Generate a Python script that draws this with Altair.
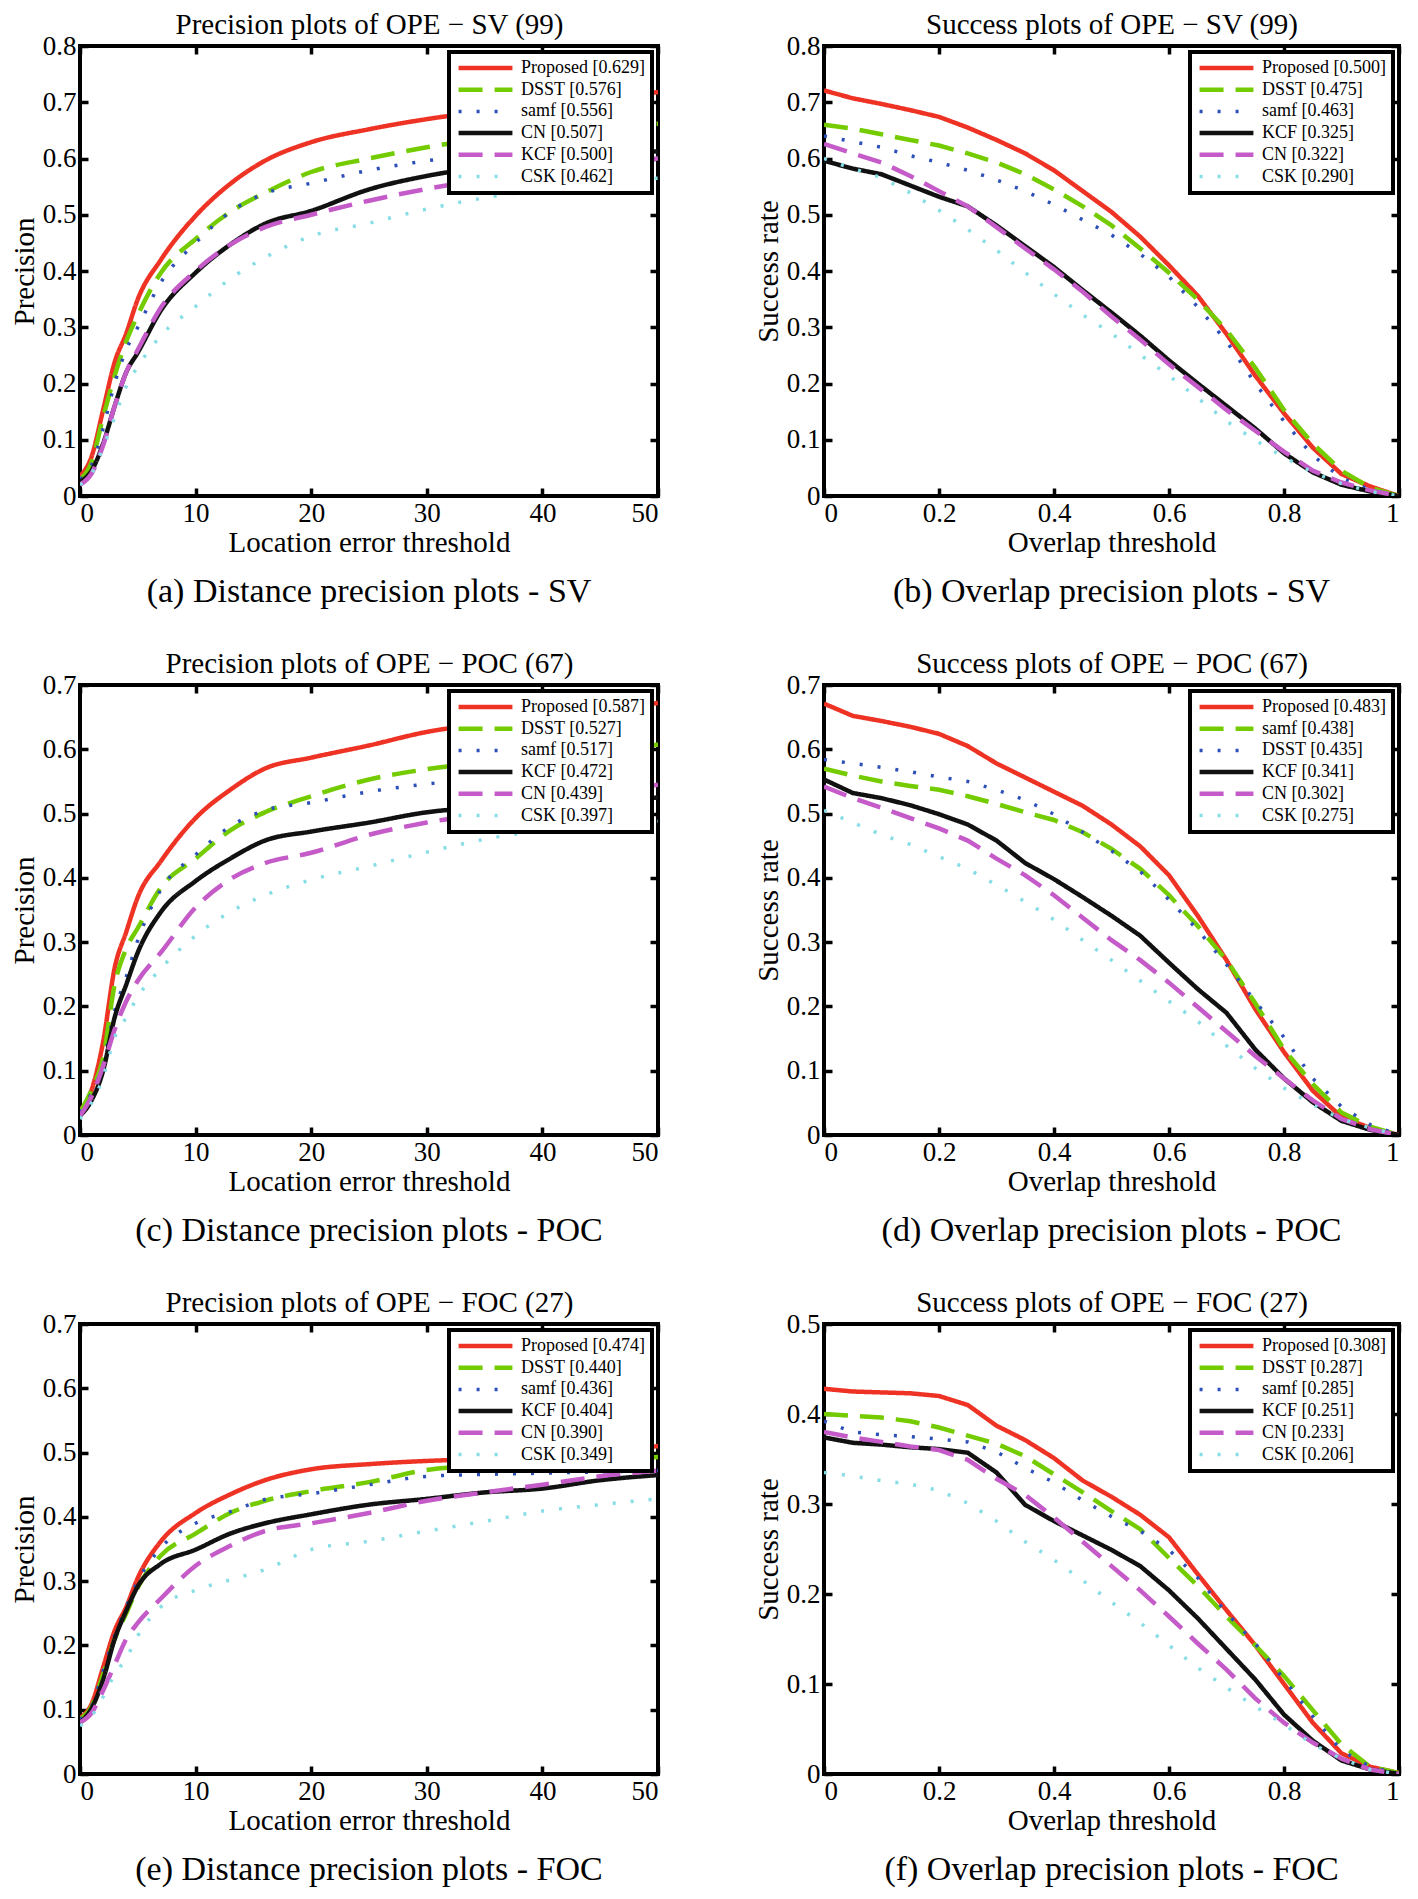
import altair as alt
import pandas as pd

FONT = "Liberation Serif"

# ---------------- data ----------------
PREC_X = [0, 1, 2, 3, 4, 5, 7, 10, 13, 16, 20, 25, 30, 35, 40, 45, 50]
SUCC_X = [0.0, 0.05, 0.1, 0.15, 0.2, 0.25, 0.3, 0.35, 0.4, 0.45, 0.5,
          0.55, 0.6, 0.65, 0.7, 0.75, 0.8, 0.85, 0.9, 0.95, 1.0]

# (a) Precision SV
sv_prec_names = ["Proposed", "DSST", "samf", "CN", "KCF", "CSK"]
sv_prec_scores = ["0.629", "0.576", "0.556", "0.507", "0.500", "0.462"]
sv_prec_proposed = [0.035, 0.07, 0.153, 0.238, 0.289, 0.35, 0.42, 0.498, 0.555, 0.596, 0.629, 0.652, 0.670, 0.684, 0.697, 0.708, 0.718]
sv_prec_dsst = [0.03, 0.06, 0.14, 0.214, 0.275, 0.322, 0.397, 0.457, 0.505, 0.539, 0.576, 0.60, 0.62, 0.636, 0.648, 0.656, 0.662]
sv_prec_samf = [0.03, 0.055, 0.12, 0.2, 0.26, 0.30, 0.38, 0.45, 0.505, 0.538, 0.556, 0.579, 0.596, 0.608, 0.618, 0.626, 0.633]
sv_prec_cn = [0.025, 0.045, 0.093, 0.16, 0.22, 0.255, 0.33, 0.397, 0.447, 0.484, 0.507, 0.545, 0.569, 0.585, 0.597, 0.606, 0.613]
sv_prec_kcf = [0.02, 0.04, 0.09, 0.16, 0.22, 0.26, 0.335, 0.40, 0.447, 0.478, 0.500, 0.525, 0.546, 0.563, 0.577, 0.589, 0.60]
sv_prec_csk = [0.02, 0.04, 0.086, 0.14, 0.195, 0.23, 0.285, 0.337, 0.386, 0.424, 0.462, 0.485, 0.51, 0.53, 0.545, 0.556, 0.565]

# (b) Success SV
sv_succ_names = ["Proposed", "DSST", "samf", "KCF", "CN", "CSK"]
sv_succ_scores = ["0.500", "0.475", "0.463", "0.325", "0.322", "0.290"]
sv_succ_proposed = [0.721, 0.707, 0.697, 0.686, 0.674, 0.655, 0.633, 0.609, 0.579, 0.542, 0.505, 0.461, 0.41, 0.356, 0.288, 0.214, 0.147, 0.086, 0.039, 0.017, 0.0]
sv_succ_dsst = [0.66, 0.653, 0.643, 0.633, 0.623, 0.609, 0.593, 0.572, 0.545, 0.515, 0.481, 0.44, 0.397, 0.349, 0.295, 0.228, 0.153, 0.093, 0.045, 0.015, 0.0]
sv_succ_samf = [0.64, 0.63, 0.62, 0.605, 0.593, 0.579, 0.562, 0.542, 0.518, 0.491, 0.464, 0.43, 0.39, 0.336, 0.275, 0.2, 0.133, 0.072, 0.032, 0.011, 0.0]
sv_succ_kcf = [0.596, 0.582, 0.572, 0.552, 0.532, 0.515, 0.481, 0.444, 0.407, 0.366, 0.326, 0.285, 0.241, 0.2, 0.16, 0.12, 0.076, 0.042, 0.02, 0.008, 0.0]
sv_succ_cn = [0.626, 0.609, 0.593, 0.569, 0.542, 0.515, 0.478, 0.44, 0.403, 0.363, 0.319, 0.278, 0.234, 0.194, 0.153, 0.116, 0.079, 0.045, 0.024, 0.01, 0.0]
sv_succ_csk = [0.6, 0.582, 0.566, 0.539, 0.508, 0.474, 0.437, 0.397, 0.359, 0.322, 0.289, 0.251, 0.214, 0.174, 0.133, 0.099, 0.069, 0.042, 0.022, 0.008, 0.0]

# (c) Precision POC
poc_prec_names = ["Proposed", "DSST", "samf", "KCF", "CN", "CSK"]
poc_prec_scores = ["0.587", "0.527", "0.517", "0.472", "0.439", "0.397"]
poc_prec_proposed = [0.038, 0.07, 0.145, 0.26, 0.316, 0.37, 0.426, 0.493, 0.537, 0.57, 0.587, 0.606, 0.627, 0.64, 0.652, 0.662, 0.672]
poc_prec_dsst = [0.035, 0.07, 0.12, 0.234, 0.29, 0.322, 0.385, 0.43, 0.474, 0.502, 0.527, 0.553, 0.569, 0.58, 0.59, 0.60, 0.607]
poc_prec_samf = [0.035, 0.065, 0.11, 0.193, 0.246, 0.303, 0.382, 0.436, 0.48, 0.505, 0.517, 0.534, 0.546, 0.555, 0.562, 0.568, 0.575]
poc_prec_kcf = [0.03, 0.054, 0.10, 0.183, 0.234, 0.284, 0.347, 0.395, 0.43, 0.458, 0.472, 0.486, 0.502, 0.51, 0.515, 0.52, 0.525]
poc_prec_cn = [0.03, 0.06, 0.107, 0.164, 0.208, 0.24, 0.284, 0.354, 0.398, 0.423, 0.439, 0.467, 0.486, 0.50, 0.515, 0.53, 0.545]
poc_prec_csk = [0.025, 0.05, 0.09, 0.152, 0.183, 0.215, 0.259, 0.31, 0.347, 0.373, 0.397, 0.418, 0.44, 0.46, 0.474, 0.482, 0.488]

# (d) Success POC
poc_succ_names = ["Proposed", "samf", "DSST", "KCF", "CN", "CSK"]
poc_succ_scores = ["0.483", "0.438", "0.435", "0.341", "0.302", "0.275"]
poc_succ_proposed = [0.671, 0.652, 0.644, 0.635, 0.624, 0.605, 0.578, 0.556, 0.534, 0.512, 0.483, 0.449, 0.404, 0.341, 0.272, 0.196, 0.129, 0.069, 0.028, 0.011, 0.0]
poc_succ_samf = [0.57, 0.559, 0.55, 0.543, 0.537, 0.527, 0.515, 0.502, 0.49, 0.471, 0.445, 0.414, 0.373, 0.325, 0.272, 0.205, 0.133, 0.079, 0.035, 0.013, 0.0]
poc_succ_dsst = [0.584, 0.578, 0.572, 0.565, 0.557, 0.55, 0.537, 0.521, 0.499, 0.471, 0.442, 0.41, 0.366, 0.319, 0.265, 0.208, 0.152, 0.088, 0.044, 0.016, 0.0]
poc_succ_kcf = [0.553, 0.532, 0.524, 0.513, 0.499, 0.483, 0.458, 0.423, 0.398, 0.37, 0.341, 0.31, 0.268, 0.227, 0.19, 0.133, 0.088, 0.051, 0.022, 0.008, 0.0]
poc_succ_cn = [0.542, 0.524, 0.509, 0.493, 0.477, 0.458, 0.43, 0.404, 0.373, 0.338, 0.303, 0.272, 0.237, 0.199, 0.161, 0.123, 0.088, 0.054, 0.025, 0.009, 0.0]
poc_succ_csk = [0.505, 0.486, 0.467, 0.452, 0.433, 0.414, 0.389, 0.363, 0.335, 0.303, 0.272, 0.24, 0.208, 0.177, 0.139, 0.104, 0.073, 0.047, 0.025, 0.011, 0.0]

# (e) Precision FOC
foc_prec_names = ["Proposed", "DSST", "samf", "KCF", "CN", "CSK"]
foc_prec_scores = ["0.474", "0.440", "0.436", "0.404", "0.390", "0.349"]
foc_prec_proposed = [0.087, 0.109, 0.166, 0.223, 0.26, 0.305, 0.362, 0.406, 0.435, 0.457, 0.474, 0.482, 0.487, 0.49, 0.495, 0.502, 0.51]
foc_prec_dsst = [0.085, 0.105, 0.155, 0.21, 0.25, 0.29, 0.34, 0.374, 0.406, 0.425, 0.44, 0.454, 0.473, 0.48, 0.485, 0.49, 0.493]
foc_prec_samf = [0.085, 0.105, 0.16, 0.215, 0.26, 0.30, 0.352, 0.39, 0.408, 0.427, 0.436, 0.45, 0.463, 0.466, 0.468, 0.47, 0.472]
foc_prec_kcf = [0.08, 0.102, 0.147, 0.21, 0.254, 0.292, 0.327, 0.349, 0.374, 0.39, 0.404, 0.419, 0.428, 0.438, 0.444, 0.457, 0.465]
foc_prec_cn = [0.08, 0.095, 0.13, 0.17, 0.21, 0.235, 0.273, 0.324, 0.355, 0.378, 0.39, 0.406, 0.425, 0.438, 0.45, 0.463, 0.472]
foc_prec_csk = [0.075, 0.09, 0.12, 0.155, 0.18, 0.215, 0.26, 0.286, 0.302, 0.318, 0.349, 0.362, 0.378, 0.393, 0.409, 0.419, 0.428]

# (f) Success FOC
foc_succ_names = ["Proposed", "DSST", "samf", "KCF", "CN", "CSK"]
foc_succ_scores = ["0.308", "0.287", "0.285", "0.251", "0.233", "0.206"]
foc_succ_proposed = [0.428, 0.425, 0.424, 0.423, 0.42, 0.41, 0.387, 0.371, 0.351, 0.326, 0.308, 0.288, 0.263, 0.222, 0.182, 0.143, 0.1, 0.057, 0.023, 0.008, 0.001]
foc_succ_dsst = [0.4, 0.398, 0.396, 0.392, 0.385, 0.376, 0.367, 0.353, 0.333, 0.313, 0.292, 0.272, 0.24, 0.209, 0.175, 0.143, 0.109, 0.071, 0.033, 0.008, 0.001]
foc_succ_samf = [0.392, 0.38, 0.377, 0.375, 0.372, 0.369, 0.358, 0.34, 0.324, 0.304, 0.286, 0.27, 0.249, 0.218, 0.179, 0.145, 0.105, 0.064, 0.026, 0.008, 0.0]
foc_succ_kcf = [0.374, 0.368, 0.366, 0.363, 0.361, 0.357, 0.335, 0.299, 0.281, 0.265, 0.249, 0.231, 0.204, 0.173, 0.139, 0.105, 0.066, 0.037, 0.015, 0.005, 0.0]
foc_succ_cn = [0.38, 0.374, 0.369, 0.364, 0.36, 0.349, 0.328, 0.31, 0.285, 0.258, 0.231, 0.204, 0.175, 0.145, 0.116, 0.084, 0.057, 0.035, 0.017, 0.005, 0.0]
foc_succ_csk = [0.335, 0.331, 0.326, 0.322, 0.315, 0.301, 0.281, 0.258, 0.238, 0.215, 0.191, 0.168, 0.143, 0.118, 0.096, 0.075, 0.055, 0.033, 0.017, 0.005, 0.0]

# ---------------- styles by legend rank ----------------
COLORS = ["#ee3224", "#74cc00", "#2d50b8", "#111111", "#c45bc8", "#86dde6"]
DASHES = [[1, 0], [24, 12], [3, 15], [1, 0], [24, 12], [3, 15]]
WIDTHS = [4.5, 4.5, 3.5, 4.5, 4.5, 3.5]

W_LEFT, W_RIGHT, H = 578, 575, 450
TICK = 8


def panel(xs, names, scores, series, ymax, yticks, xticks, xdomain, xfmt,
          top_title, xtitle, ytitle, caption, interp, width):
    labels = [f"{n} [{s}]" for n, s in zip(names, scores)]
    rows = []
    for rank, (lab, ys) in enumerate(zip(labels, series)):
        for x, y in zip(xs, ys):
            rows.append({"x": x, "y": y, "series": lab, "rank": rank})
    df = pd.DataFrame(rows)
    xsc = alt.Scale(domain=xdomain, nice=False, zero=False)
    ysc = alt.Scale(domain=[0, ymax], nice=False)
    base = alt.Chart(df)
    lines = base.mark_line(interpolate=interp, clip=True).encode(
        x=alt.X("x:Q", scale=xsc,
                axis=alt.Axis(orient="bottom", values=xticks, format=xfmt, title=xtitle,
                              offset=-TICK, tickSize=TICK, labelPadding=4, titlePadding=2)),
        y=alt.Y("y:Q", scale=ysc,
                axis=alt.Axis(orient="left", values=yticks, format="~g", title=ytitle,
                              offset=-TICK, tickSize=TICK, labelPadding=4, titlePadding=3)),
        color=alt.Color("series:N", scale=alt.Scale(domain=labels, range=COLORS),
                        legend=alt.Legend(title=None)),
        strokeDash=alt.StrokeDash("series:N", scale=alt.Scale(domain=labels, range=DASHES),
                                  legend=alt.Legend(title=None)),
        strokeWidth=alt.StrokeWidth("series:N", scale=alt.Scale(type="ordinal", domain=labels, range=WIDTHS),
                                    legend=None),
    )
    ghost = base.mark_line(opacity=0).encode(
        x=alt.X("x:Q", scale=xsc,
                axis=alt.Axis(orient="top", values=xticks, labels=False, title=top_title,
                              offset=-TICK, tickSize=TICK, titlePadding=5,
                              titleFontSize=29)),
        y=alt.Y("y:Q", scale=ysc,
                axis=alt.Axis(orient="right", values=yticks, labels=False, title=None,
                              offset=-TICK, tickSize=TICK)),
        detail="series:N",
    )
    return alt.layer(lines, ghost).resolve_axis(x="independent", y="independent").properties(
        width=width, height=H,
        title=alt.TitleParams(caption, orient="bottom", fontSize=34, offset=18,
                              font=FONT, fontWeight="normal", color="black"),
    )


prec_ticks = [0, 10, 20, 30, 40, 50]
succ_ticks = [0, 0.2, 0.4, 0.6, 0.8, 1]
y8 = [0, 0.1, 0.2, 0.3, 0.4, 0.5, 0.6, 0.7, 0.8]
y7 = [0, 0.1, 0.2, 0.3, 0.4, 0.5, 0.6, 0.7]
y5 = [0, 0.1, 0.2, 0.3, 0.4, 0.5]
MINUS = "\u2212"

pa = panel(PREC_X, sv_prec_names, sv_prec_scores,
           [sv_prec_proposed, sv_prec_dsst, sv_prec_samf, sv_prec_cn, sv_prec_kcf, sv_prec_csk],
           0.8, y8, prec_ticks, [0, 50], "d", f"Precision plots of OPE {MINUS} SV (99)",
           "Location error threshold", "Precision", "(a) Distance precision plots - SV", "monotone", W_LEFT)
pb = panel(SUCC_X, sv_succ_names, sv_succ_scores,
           [sv_succ_proposed, sv_succ_dsst, sv_succ_samf, sv_succ_kcf, sv_succ_cn, sv_succ_csk],
           0.8, y8, succ_ticks, [0, 1], "~g", f"Success plots of OPE {MINUS} SV (99)",
           "Overlap threshold", "Success rate", "(b) Overlap precision plots - SV", "linear", W_RIGHT)
pc = panel(PREC_X, poc_prec_names, poc_prec_scores,
           [poc_prec_proposed, poc_prec_dsst, poc_prec_samf, poc_prec_kcf, poc_prec_cn, poc_prec_csk],
           0.7, y7, prec_ticks, [0, 50], "d", f"Precision plots of OPE {MINUS} POC (67)",
           "Location error threshold", "Precision", "(c) Distance precision plots - POC", "monotone", W_LEFT)
pd_ = panel(SUCC_X, poc_succ_names, poc_succ_scores,
            [poc_succ_proposed, poc_succ_samf, poc_succ_dsst, poc_succ_kcf, poc_succ_cn, poc_succ_csk],
            0.7, y7, succ_ticks, [0, 1], "~g", f"Success plots of OPE {MINUS} POC (67)",
            "Overlap threshold", "Success rate", "(d) Overlap precision plots - POC", "linear", W_RIGHT)
pe = panel(PREC_X, foc_prec_names, foc_prec_scores,
           [foc_prec_proposed, foc_prec_dsst, foc_prec_samf, foc_prec_kcf, foc_prec_cn, foc_prec_csk],
           0.7, y7, prec_ticks, [0, 50], "d", f"Precision plots of OPE {MINUS} FOC (27)",
           "Location error threshold", "Precision", "(e) Distance precision plots - FOC", "monotone", W_LEFT)
pf = panel(SUCC_X, foc_succ_names, foc_succ_scores,
           [foc_succ_proposed, foc_succ_dsst, foc_succ_samf, foc_succ_kcf, foc_succ_cn, foc_succ_csk],
           0.5, y5, succ_ticks, [0, 1], "~g", f"Success plots of OPE {MINUS} FOC (27)",
           "Overlap threshold", "Success rate", "(f) Overlap precision plots - FOC", "linear", W_RIGHT)

chart = alt.concat(pa, pb, pc, pd_, pe, pf, columns=2, spacing={"row": 36, "column": 90}).resolve_scale(
    color="independent", strokeDash="independent", strokeWidth="independent"
).properties(
    padding={"left": 0, "top": 0, "right": 0, "bottom": 0}
).configure(
    font=FONT
).configure_view(
    stroke="black", strokeWidth=4
).configure_axis(
    domain=False, grid=False, tickColor="black", tickWidth=3.5,
    labelFont=FONT, labelFontSize=27, labelColor="black",
    titleFont=FONT, titleFontSize=29, titleFontWeight="normal", titleColor="black",
).configure_legend(
    orient="top-right", offset=6, fillColor="white", strokeColor="black", strokeWidth=4,
    padding=7, symbolType="stroke", symbolSize=2900, symbolStrokeWidth=4.5,
    labelFont=FONT, labelFontSize=18, labelColor="black", labelLimit=400,
    clipHeight=18, rowPadding=3.7, labelOffset=6,
)

chart.save("out.html", embed_options={"renderer": "svg", "actions": False})
